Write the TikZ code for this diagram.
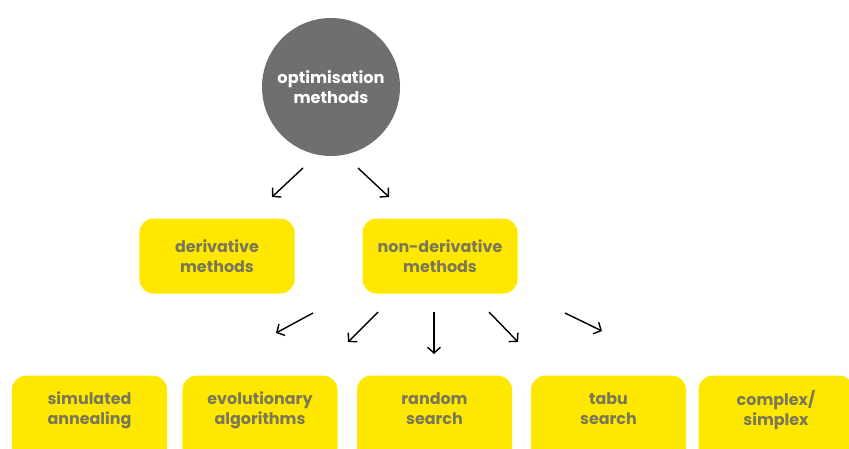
\documentclass[tikz,border=0pt]{standalone}
\usepackage{fontspec}
\setmainfont{Poppins}
\usetikzlibrary{positioning, arrows.meta}
\definecolor{boxyellow}{HTML}{FFE800}
\definecolor{circgrey}{HTML}{6F6F6D}
\definecolor{textgrey}{HTML}{7A7658}

\begin{document}
\begin{tikzpicture}[x=0.03cm, y=-0.03cm,
    method/.style={rectangle, rounded corners=12pt, fill=boxyellow, text=textgrey,
        minimum width=4.65cm, minimum height=2.25cm, align=center,
        font=\fontsize{13.6}{17}\selectfont\bfseries},
    leaf/.style={method, minimum height=2.6cm, text depth=0.65cm},
    pointer/.style={-{Straight Barb[length=5pt, width=11pt]}, line width=1.2pt}]
    \useasboundingbox (0,0) rectangle (849,448);

    % top
    \node (opt) [circle, fill=circgrey, text=white, minimum size=4.14cm, align=center,
        font=\fontsize{13.8}{17}\selectfont\bfseries] at (331,87) {optimisation\\methods};

    % middle row
    \node (deriv) [method] at (217,256) {derivative\\methods};
    \node (nonderiv) [method] at (440,256) {non-derivative\\methods};

    % bottom row
    \node (anneal) [leaf] at (89.5,419) {simulated\\annealing};
    \node (evol) [leaf] at (260,419) {evolutionary\\algorithms};
    \node (random) [leaf] at (434.5,419) {random\\search};
    \node (tabu) [leaf] at (608.5,419) {tabu\\search};
    \node (simplex) [leaf] at (776,419) {complex/\\simplex};

    % arrow ends
    \coordinate (a1) at (303,168);  \coordinate (b1) at (272,197);
    \coordinate (a2) at (358,168);  \coordinate (b2) at (389,197);
    \coordinate (a3) at (313,313);  \coordinate (b3) at (276,333);
    \coordinate (a4) at (378,312);  \coordinate (b4) at (348,342);
    \coordinate (a5) at (434,312);  \coordinate (b5) at (434,354);
    \coordinate (a6) at (489,312);  \coordinate (b6) at (518,342);
    \coordinate (a7) at (565,313);  \coordinate (b7) at (602,331);

    \draw [pointer] (a1) -- (b1);
    \draw [pointer] (a2) -- (b2);
    \draw [pointer] (a3) -- (b3);
    \draw [pointer] (a4) -- (b4);
    \draw [pointer] (a5) -- (b5);
    \draw [pointer] (a6) -- (b6);
    \draw [pointer] (a7) -- (b7);
\end{tikzpicture}
\end{document}
